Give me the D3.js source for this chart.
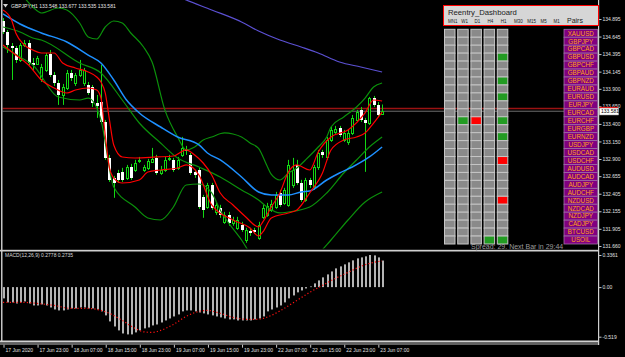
<!DOCTYPE html>
<html lang="en">
<head>
<meta charset="UTF-8">
<title>GBPJPY,H1</title>
<script src="https://d3js.org/d3.v7.min.js"></script>
<style>
  html, body { margin: 0; padding: 0; background: #000; }
  svg { display: block; }
  text { font-family: "Liberation Sans", Arial, sans-serif; }
</style>
</head>
<body>
<div id="container"></div>
<script>
const width = 625, height = 357;

// H1 candles, 17 Jun 15:00 .. 23 Jun 08:00
const open = [134.867,134.710,134.511,134.482,134.312,134.525,134.553,134.269,134.255,134.041,
  134.169,134.397,134.098,133.984,133.813,133.913,134.126,133.984,134.098,133.984,
  133.955,133.927,133.699,133.713,133.429,132.916,132.631,132.702,132.717,132.631,
  132.788,132.745,132.873,132.745,132.774,132.859,132.916,132.702,132.745,132.902,
  132.888,132.774,132.959,133.030,132.959,132.717,132.745,132.361,132.219,132.532,
  132.147,132.204,132.005,132.104,131.990,131.919,131.962,131.748,131.877,131.891,
  131.777,132.076,132.104,132.176,132.219,132.418,132.275,132.247,132.532,132.816,
  132.560,132.318,132.603,132.503,132.788,133.002,132.930,133.172,133.286,133.343,
  133.172,133.144,133.272,133.457,133.600,133.457,133.414,133.770,133.671,133.548];
const high = [134.910,134.739,134.553,134.511,134.553,134.596,134.596,134.340,134.369,134.255,
  134.411,134.454,134.141,134.027,133.970,134.169,134.169,134.126,134.312,134.198,
  133.998,133.955,133.813,134.240,133.457,132.959,132.660,132.745,132.774,132.816,
  132.831,132.888,132.930,132.816,132.902,133.058,132.959,132.802,132.930,132.959,
  132.916,132.930,133.215,133.087,132.987,132.745,132.774,132.389,132.560,132.560,
  132.275,132.247,132.147,132.147,132.076,132.076,132.005,131.919,131.919,131.919,
  132.005,132.247,132.275,132.318,132.432,132.460,132.489,132.888,132.916,132.888,
  132.603,132.631,132.631,132.816,133.030,133.030,133.215,133.357,133.372,133.372,
  133.315,133.315,133.528,133.600,133.642,133.486,133.785,133.799,133.713,133.677];
const low = [134.682,134.411,134.027,134.269,134.283,134.497,134.240,134.169,134.240,133.998,
  134.141,134.069,133.941,133.671,133.671,133.884,134.012,133.941,134.069,133.941,
  133.813,133.642,133.486,133.400,132.888,132.574,132.347,132.560,132.574,132.603,
  132.603,132.717,132.845,132.717,132.745,132.845,132.674,132.674,132.717,132.873,
  132.717,132.745,132.930,132.959,132.674,132.631,132.190,132.062,132.190,132.176,
  132.104,132.062,131.976,131.948,131.948,131.891,131.862,131.706,131.805,131.834,
  131.748,132.047,132.076,132.147,132.190,132.219,132.247,132.219,132.489,132.532,
  132.290,132.290,132.489,132.460,132.745,132.916,132.888,133.144,133.258,133.215,
  133.144,133.101,133.243,133.429,133.429,132.717,133.386,133.642,133.500,133.535];
const close = [134.710,134.525,134.482,134.312,134.525,134.553,134.269,134.240,134.340,134.212,
  134.383,134.098,133.984,133.813,133.927,134.126,134.055,134.098,134.169,134.169,
  133.841,133.699,133.656,133.429,132.916,132.603,132.560,132.603,132.603,132.788,
  132.631,132.845,132.888,132.788,132.873,132.902,132.702,132.745,132.888,132.916,
  132.745,132.888,133.058,133.016,132.702,132.674,132.219,132.176,132.532,132.204,
  132.247,132.104,132.104,131.990,132.033,132.033,131.891,131.891,131.848,131.862,
  131.962,132.204,132.233,132.261,132.389,132.247,132.460,132.816,132.745,132.560,
  132.318,132.603,132.532,132.788,132.987,132.959,133.172,133.315,133.329,133.243,
  133.272,133.272,133.486,133.571,133.457,133.414,133.770,133.671,133.528,133.581];

// indicator lines, [bar index, price]
const bbUpper = [[4,135.28],[7,135.066],[9,134.981],[13,135.052],[15,135.024],[18,134.838],[20,134.639],
  [22,134.61],[24,134.781],[26,134.867],[28,134.838],[30,134.696],[33,134.496],[35,134.283],[38,133.6],
  [41,133.214],[43,133.029],[45,133.071],[47,133.171],[49,133.214],[52,133.271],[54,133.256],[56,133.214],
  [58,133.128],[60,133.05],[62,132.8],[63,132.68],[65,132.601],[67,132.701],[69,132.772],[71,132.886],
  [74,133.071],[76,133.214],[77,133.356],[80,133.499],[83,133.641],[85,133.769],[87,133.926],[89,133.983]];
const bbMiddle = [[0,134.781],[4,134.71],[7,134.625],[9,134.596],[18,134.268],[23,134.126],[28,133.741],
  [32,133.413],[37,133.128],[41,132.914],[46,132.786],[51,132.644],[56,132.459],[60,132.316],[62,132.216],
  [65,132.131],[67,132.145],[72,132.216],[76,132.416],[80,132.701],[83,132.886],[86,133.071],[89,133.214]];
const bbLower = [[0,134.496],[4,134.354],[7,134.24],[13,133.784],[18,133.741],[20,133.769],[23,133.456],
  [26,132.501],[31,132.216],[34,132.06],[37,132.031],[40,132.216],[43,132.53],[46,132.544],[49,132.416],
  [51,132.174],[56,131.746],[59,131.49],[67,131.347],[73,131.49],[77,131.746],[81,132.031],[85,132.287],
  [89,132.43]];
const envUpper = [[0,135.024],[2,134.881],[3,134.696],[5,134.525],[7,134.453],[9,134.411],[12,134.411],
  [14,134.268],[17,134.197],[20,134.14],[22,134.069],[23,133.998],[24,133.841],[25,133.456],[26,133.1],
  [28,132.929],[31,132.914],[36,132.929],[40,132.943],[43,133.029],[45,132.957],[47,132.843],[49,132.672],
  [51,132.416],[54,132.245],[57,132.074],[60,131.931],[61,132.003],[63,132.216],[65,132.416],[67,132.715],
  [69,132.815],[72,132.743],[74,133.0],[77,133.214],[81,133.313],[85,133.556],[87,133.741],[89,133.727]];
const envLower = [[0,134.525],[3,134.382],[6,134.24],[9,134.026],[12,133.912],[15,133.841],[17,133.883],
  [20,133.912],[22,133.883],[23,133.769],[24,133.242],[25,132.772],[26,132.629],[28,132.558],[32,132.601],
  [34,132.715],[37,132.743],[41,132.772],[43,132.815],[46,132.672],[49,132.245],[54,132.031],[58,131.918],
  [60,131.803],[61,131.86],[63,132.06],[67,132.131],[69,132.174],[72,132.416],[75,132.701],[77,133.029],
  [80,133.171],[83,133.214],[85,133.271],[87,133.413],[89,133.57]];
const maBlue = [[0,134.967],[4,134.824],[9,134.696],[15,134.568],[20,134.382],[23,134.268],[26,134.026],
  [29,133.741],[32,133.556],[37,133.356],[41,133.214],[46,133.1],[48,132.986],[51,132.886],[56,132.644],
  [60,132.43],[63,132.387],[67,132.387],[70,132.43],[72,132.444],[76,132.601],[79,132.701],[82,132.786],
  [86,132.929],[89,133.071]];
const maSlow = [[35,135.38],[43,135.166],[49,135.024],[56,134.853],[60,134.724],[65,134.596],[70,134.496],
  [74,134.411],[79,134.283],[84,134.211],[89,134.14]];

// MACD(12,26,9) main values per bar and signal line
const macdMain = [-0.118,-0.160,-0.160,-0.171,-0.160,-0.150,-0.171,-0.192,-0.192,-0.181,
  -0.192,-0.213,-0.234,-0.244,-0.244,-0.234,-0.223,-0.223,-0.213,-0.213,
  -0.223,-0.223,-0.234,-0.254,-0.296,-0.359,-0.412,-0.453,-0.485,-0.495,
  -0.495,-0.474,-0.453,-0.432,-0.422,-0.401,-0.391,-0.370,-0.349,-0.328,
  -0.307,-0.286,-0.254,-0.244,-0.244,-0.254,-0.265,-0.275,-0.286,-0.296,
  -0.307,-0.317,-0.328,-0.338,-0.338,-0.349,-0.349,-0.349,-0.349,-0.338,
  -0.328,-0.307,-0.254,-0.234,-0.213,-0.192,-0.160,-0.118,-0.087,-0.055,
  -0.035,-0.014,0.007,0.039,0.070,0.102,0.133,0.164,0.196,0.217,
  0.238,0.259,0.280,0.301,0.311,0.322,0.3361,0.332,0.311,0.2778];
const macdSignal = [[0,-0.16],[5,-0.16],[8,-0.171],[12,-0.192],[16,-0.223],[20,-0.223],[23,-0.244],
  [25,-0.275],[28,-0.349],[31,-0.432],[33,-0.468],[35,-0.474],[37,-0.453],[40,-0.391],[43,-0.307],
  [46,-0.254],[48,-0.244],[51,-0.275],[54,-0.317],[58,-0.338],[60,-0.336],[63,-0.296],[66,-0.223],
  [69,-0.139],[72,-0.055],[75,0.018],[78,0.091],[81,0.154],[84,0.217],[87,0.259],[89,0.2735]];

const priceTicks = [134.895,134.645,134.395,134.145,133.900,133.650,133.400,133.150,132.900,132.655,
  132.405,132.155,131.905,131.660];
const macdTicks = [0.3361, 0, -0.519];
const macdTickLabels = ["0.3361", "0.00", "-0.519"];
const timeTicks = [0, 8, 16, 24, 32, 40, 48, 56, 64, 72, 80, 88];
const timeLabels = ["17 Jun 2020","17 Jun 23:00","18 Jun 07:00","18 Jun 15:00","18 Jun 23:00",
  "19 Jun 07:00","19 Jun 15:00","19 Jun 23:00","22 Jun 07:00","22 Jun 15:00","22 Jun 23:00","23 Jun 07:00"];
const bid = 133.581, askLine = 133.62;

// dashboard
const timeframes = ["MN1","W1","D1","H4","H1","M30","M15","M5","M1"];
const cellColumns = ["MN1","W1","D1","H4","H1"];
const pairs = ["XAUUSD","GBPJPY","GBPCAD","GBPUSD","GBPCHF","GBPAUD","GBPNZD","EURAUD","EURUSD",
  "EURJPY","EURCAD","EURCHF","EURGBP","EURNZD","USDJPY","USDCAD","USDCHF","AUDUSD","AUDCAD",
  "AUDJPY","AUDCHF","NZDUSD","NZDCAD","NZDJPY","CADJPY","BTCUSD","USOIL"];
const signalCells = [["W1","EURCHF","up"],["D1","EURCHF","down"],["H4","USOIL","up"],
  ["H1","GBPUSD","up"],["H1","GBPNZD","up"],["H1","EURUSD","up"],["H1","EURCHF","up"],
  ["H1","EURNZD","up"],["H1","USDCHF","down"],["H1","NZDUSD","down"],["H1","USOIL","up"]];

const svg = d3.select("#container").append("svg")
  .attr("width", width).attr("height", height)
  .style("background", "#000");

const x = d3.scaleLinear().domain([0, 89]).range([3, 382.1]);
const y = d3.scaleLinear().domain([131.646, 135.166]).range([247, 0]);
const ym = d3.scaleLinear().domain([-0.519, 0.3361]).range([336.7, 255]);
const px = i => Math.round(x(i));

svg.append("defs").append("clipPath").attr("id", "mainClip")
  .append("rect").attr("x", 2.5).attr("y", 0).attr("width", 596).attr("height", 248.5);

const main = svg.append("g").attr("clip-path", "url(#mainClip)");

// ask / bid lines
main.append("line").attr("x1", 0).attr("x2", 598).attr("y1", y(askLine)).attr("y2", y(askLine))
  .attr("stroke", "#9a1212").attr("stroke-width", 1.6);
main.append("line").attr("x1", 0).attr("x2", 598).attr("y1", y(bid)).attr("y2", y(bid))
  .attr("stroke", "#6e6e6e").attr("stroke-width", 1);

// candles
const lime = "#12d812";
const bars = d3.range(open.length).map(i => ({i, o: open[i], h: high[i], l: low[i], c: close[i]}));
const cg = main.append("g");
cg.selectAll(".wick").data(bars).join("line")
  .attr("x1", d => px(d.i) + 0.5).attr("x2", d => px(d.i) + 0.5)
  .attr("y1", d => y(d.h)).attr("y2", d => y(d.l))
  .attr("stroke", lime).attr("stroke-width", 1);
cg.selectAll(".body").data(bars).join("rect")
  .attr("x", d => d.c >= d.o ? px(d.i) - 0.5 : px(d.i) - 1)
  .attr("width", d => d.c >= d.o ? 2 : 3)
  .attr("y", d => Math.round(y(Math.max(d.o, d.c))) + (d.c >= d.o ? 0.5 : 0))
  .attr("height", d => Math.max(1, Math.round(y(Math.min(d.o, d.c))) - Math.round(y(Math.max(d.o, d.c)))))
  .attr("fill", d => d.c >= d.o ? "#000" : "#fff")
  .attr("stroke", d => d.c >= d.o ? lime : "none")
  .attr("stroke-width", 1);

// indicators
const line = d3.line().x(d => x(d[0])).y(d => y(d[1])).curve(d3.curveMonotoneX);
const drawLine = (data, color, w) => main.append("path").attr("d", line(data))
  .attr("fill", "none").attr("stroke", color).attr("stroke-width", w);
drawLine(maSlow, "#5b50d2", 1.2);
drawLine(bbUpper, "#0b900b", 1.2);
drawLine(bbMiddle, "#0b900b", 1.2);
drawLine(bbLower, "#0b900b", 1.2);
drawLine(maBlue, "#1e90ff", 1.5);
drawLine(envUpper, "#ff0000", 1.2);
drawLine(envLower, "#ff0000", 1.2);

// header
svg.append("path").attr("d", "M3,4 L8,4 L5.5,7.5 Z").attr("fill", "#d0d0d0");
svg.append("text").attr("x", 11).attr("y", 8.4).attr("font-size", 5).attr("fill", "#e8e8e8")
  .text(`GBPJPY,H1 ${open[89].toFixed(3)} ${high[89].toFixed(3)} ${low[89].toFixed(3)} ${close[89].toFixed(3)}`);

// MACD panel
const mg = svg.append("g");
mg.selectAll("rect").data(macdMain).join("rect")
  .attr("x", (d, i) => px(i))
  .attr("width", 2)
  .attr("y", d => Math.min(ym(d), ym(0)))
  .attr("height", d => Math.abs(ym(d) - ym(0)))
  .attr("fill", "#b4b4b4");
mg.append("path").attr("d", d3.line().x(d => x(d[0])).y(d => ym(d[1])).curve(d3.curveMonotoneX)(macdSignal))
  .attr("fill", "none").attr("stroke", "#ff1010").attr("stroke-width", 1.2)
  .attr("stroke-dasharray", "1.2,2.2");
svg.append("text").attr("x", 5).attr("y", 257.3).attr("font-size", 5).attr("fill", "#d8d8d8")
  .text(`MACD(12,26,9) ${macdMain[89].toFixed(4)} ${macdSignal[macdSignal.length - 1][1].toFixed(4)}`);

// frame lines
svg.append("rect").attr("x", 1).attr("y", 0).attr("width", 1.5).attr("height", 341).attr("fill", "#c4c4c4");
svg.append("rect").attr("x", 0).attr("y", 249.8).attr("width", 599).attr("height", 1.7).attr("fill", "#cfcfcf");
svg.append("rect").attr("x", 0).attr("y", 340.5).attr("width", 599).attr("height", 2).attr("fill", "#d2d2d2");
svg.append("rect").attr("x", 0).attr("y", 343.3).attr("width", 599).attr("height", 1.4).attr("fill", "#8a8a8a");
svg.append("rect").attr("x", 598).attr("y", 0).attr("width", 1.2).attr("height", 345).attr("fill", "#d0d0d0");

// axes
const styleAxis = g => {
  g.select(".domain").remove();
  g.selectAll("line").attr("stroke", "#c8c8c8");
  g.selectAll("text").attr("fill", "#e0e0e0").attr("font-size", 5)
    .attr("font-family", "Liberation Sans, Arial, sans-serif");
};
svg.append("g").attr("transform", "translate(598.5,0)")
  .call(d3.axisRight(y).tickValues(priceTicks).tickSize(3).tickPadding(1).tickFormat(d3.format(".3f")))
  .call(styleAxis);
svg.append("g").attr("transform", "translate(598.5,0)")
  .call(d3.axisRight(ym).tickValues(macdTicks).tickSize(3).tickPadding(1)
    .tickFormat((d, k) => macdTickLabels[k]))
  .call(styleAxis);
svg.append("g").attr("transform", "translate(0.5,344.7)")
  .call(d3.axisBottom(x).tickValues(timeTicks).tickSize(3).tickPadding(1)
    .tickFormat((d, k) => timeLabels[k]))
  .call(styleAxis)
  .call(g => g.selectAll("text").attr("text-anchor", "start").attr("x", 1.5));

// current price labels on the scale
svg.append("rect").attr("x", 599).attr("y", y(askLine) - 1.6).attr("width", 19).attr("height", 2)
  .attr("fill", "#ff0000");
svg.append("rect").attr("x", 599.2).attr("y", y(bid) - 3.2).attr("width", 19.5).attr("height", 7)
  .attr("fill", "#fff").attr("stroke", "#888").attr("stroke-width", 0.5);
svg.append("text").attr("x", 601).attr("y", y(bid) + 1.8).attr("font-size", 5).attr("fill", "#000")
  .text(bid.toFixed(3));

// spread text (mostly hidden behind dashboard)
svg.append("text").attr("x", 471).attr("y", 248.6).attr("font-size", 7)
  .attr("font-family", "Liberation Mono, Courier New, monospace").attr("fill", "#9c9c9c")
  .text("Spread: 29. Next Bar in 29:44");

// dashboard
const dash = svg.append("g");
dash.append("rect").attr("x", 443.5).attr("y", 5.5).attr("width", 155).attr("height", 20)
  .attr("fill", "#d6d6d6").attr("stroke", "#ff0000").attr("stroke-width", 1);
dash.append("text").attr("x", 448).attr("y", 15.2).attr("font-size", 7.7).attr("fill", "#1a1a1a")
  .text("Reentry_Dashboard");
const tfX = d3.scalePoint().domain(timeframes).range([448, 553.6]);
dash.selectAll(".tf").data(timeframes).join("text")
  .attr("x", d => tfX(d)).attr("y", 23.4).attr("font-size", 4.5).attr("fill", "#1a1a1a")
  .text(d => d);
dash.append("text").attr("x", 567).attr("y", 23.4).attr("font-size", 7).attr("fill", "#1a1a1a").text("Pairs");

const rowY = d3.scaleBand().domain(pairs).range([29.3, 244]);
const colX = d3.scaleBand().domain(cellColumns).range([444.5, 507.8]).paddingInner(0.2045);
const cellState = (tf, p) => {
  const s = signalCells.find(d => d[0] === tf && d[1] === p);
  return s ? s[2] : null;
};
const cells = cellColumns.flatMap(tf => pairs.map(p => ({tf, p, s: cellState(tf, p)})));
dash.selectAll(".cell").data(cells).join("rect")
  .attr("x", d => colX(d.tf)).attr("y", d => rowY(d.p))
  .attr("width", colX.bandwidth()).attr("height", rowY.bandwidth())
  .attr("fill", d => d.s === "up" ? "#229b22" : d.s === "down" ? "#ff0000" : "#8a8a8a")
  .attr("stroke", "#c6c6c6").attr("stroke-width", 1);

dash.selectAll(".pairbox").data(pairs).join("rect")
  .attr("x", 564).attr("y", d => rowY(d)).attr("width", 33.5).attr("height", rowY.bandwidth())
  .attr("fill", "#800080").attr("stroke", "#a070a8").attr("stroke-width", 0.8);
dash.selectAll(".pair").data(pairs).join("text")
  .attr("x", 580.8).attr("y", d => rowY(d) + rowY.bandwidth() / 2 + 2.3)
  .attr("text-anchor", "middle").attr("font-size", 6.3).attr("fill", "#ffa31a")
  .text(d => d);
</script>
</body>
</html>
